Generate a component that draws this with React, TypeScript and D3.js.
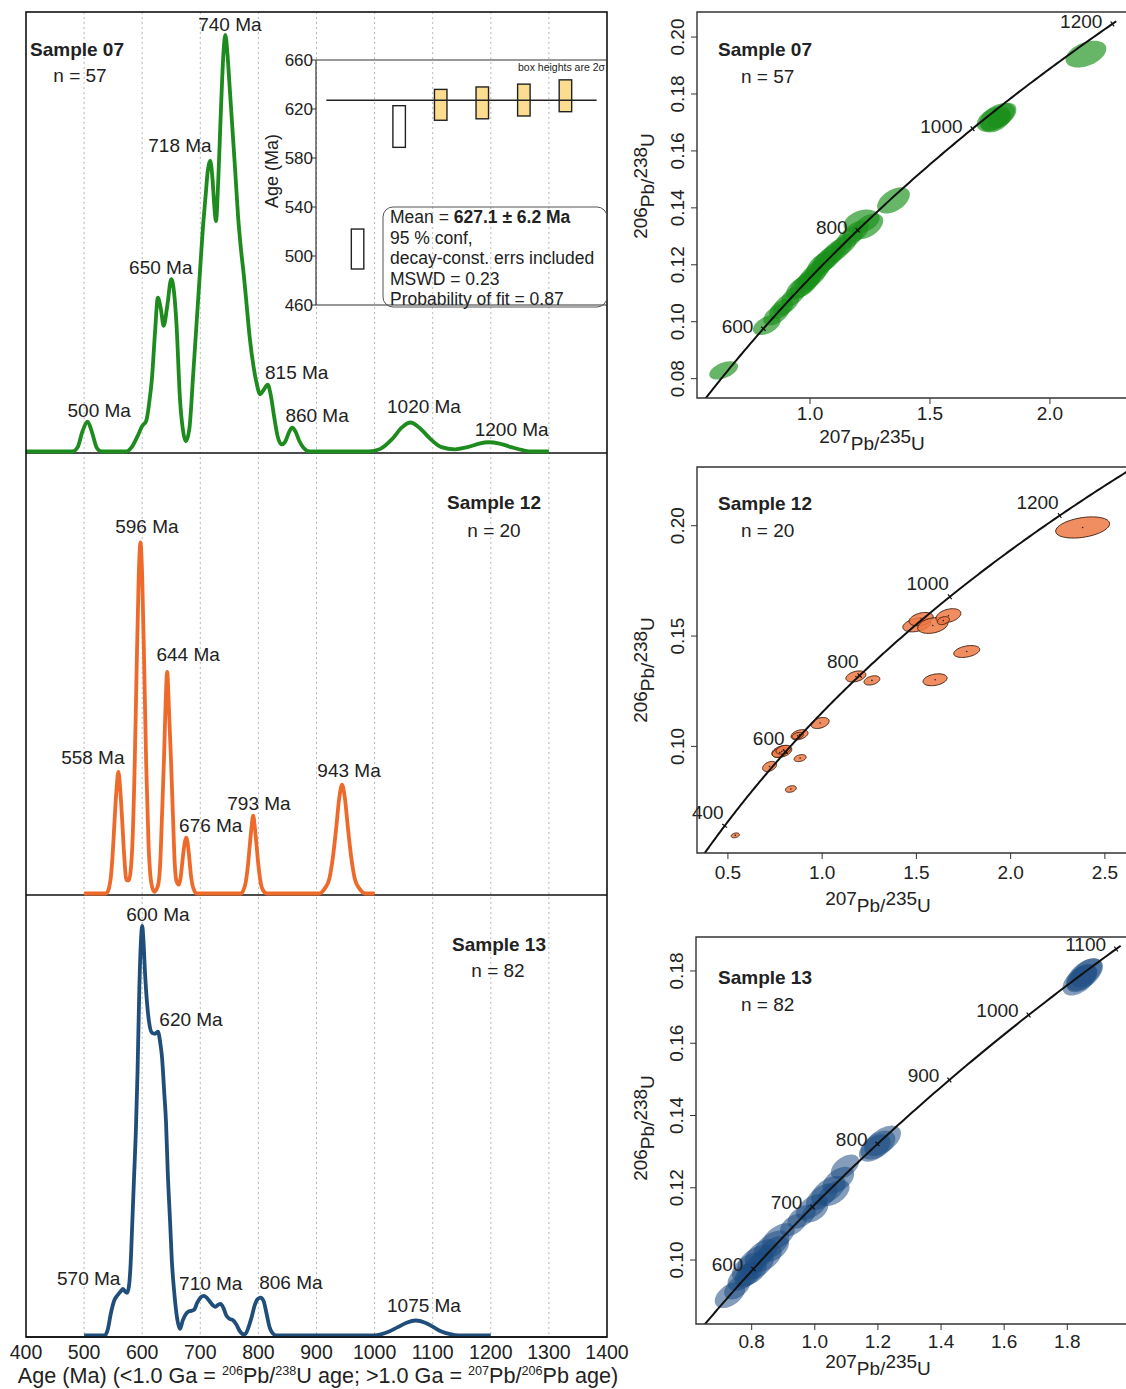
import { useEffect, useRef } from "react";
import * as d3 from "d3";

type Pt = [number, number];
type Peak = [string, number, number];
type Ell = [number, number, number, number, number];

const FONT = "'Liberation Sans', Arial, Helvetica, sans-serif";
const INK = "#222";

// ---------- age spectra (relative probability, 100 = panel height) ----------
const ageTicks = [400, 500, 600, 700, 800, 900, 1000, 1100, 1200, 1300, 1400];
const gridAges = [500, 600, 700, 800, 900, 1000, 1100, 1200, 1300];

const sample07Pdp: Pt[] = [
  [400, 0], [480, 0], [489, 1], [497, 4.5], [506, 6.8], [514, 4.2], [522, 0.8], [530, 0],
  [572, 0], [582, 1], [592, 3.5], [600, 5.8], [607, 7], [612, 11], [617, 17], [622, 27],
  [627, 35], [632, 32.5], [637, 28.6], [643, 33], [650, 39.2], [655, 36], [659, 29], [665, 12],
  [670, 5], [675, 2.3], [681, 5], [688, 18], [694, 30], [699, 40], [704, 50], [709, 58],
  [713, 64], [717, 66.2], [721, 62], [724, 56], [727, 52.4], [731, 62], [735, 76], [740, 91],
  [743, 94.8], [747, 90], [750, 84], [753, 78], [757, 70], [760, 64], [765, 53.5], [770, 46],
  [775, 40], [780, 33], [785, 26], [792, 19], [797, 15.5], [803, 13], [809, 14], [816, 15.2],
  [821, 13], [827, 8], [833, 3.5], [840, 1.6], [846, 2.2], [852, 4.2], [858, 5.4], [864, 4.5],
  [870, 2.5], [878, 0.8], [888, 0], [990, 0], [1010, 0.6], [1030, 2.8], [1047, 5.5], [1062, 6.6],
  [1078, 5.3], [1095, 3], [1115, 1], [1138, 0.5], [1160, 1], [1180, 1.8], [1196, 2.1],
  [1215, 1.8], [1235, 1], [1255, 0.3], [1270, 0], [1300, 0],
];

const sample12Pdp: Pt[] = [
  [500, 0], [537, 0], [540, 0.3], [543, 1.3], [546, 3.7], [549, 8.6], [552.5, 16.7], [556, 24],
  [559, 27.6], [562, 24], [565.5, 16.7], [569, 8.6], [573, 3], [577, 3], [580, 5], [583, 10.8],
  [587, 28.7], [590, 48], [594, 72], [597, 79.7], [600, 72], [604, 48], [607, 28.7], [611, 10.8],
  [614, 4.2], [617, 1.5], [621, 0.4], [624, 0.8], [628, 2.3], [631, 6.8], [634, 17.4],
  [637.5, 30.5], [640, 42], [643, 50.3], [646, 42], [649.5, 30.5], [653, 17.4], [656, 6.8],
  [659, 2.8], [663, 2], [666, 3.5], [669, 7], [672, 10.5], [676, 12.7], [680, 9.5], [684, 4],
  [688, 1.2], [694, 0], [770, 0], [774, 0.7], [778, 2.4], [782, 6.4], [785, 10.7], [788, 14.8],
  [791, 17.7], [794, 14.8], [797, 10.7], [800, 6.4], [804, 2.4], [808, 0.7], [815, 0],
  [905, 0], [914, 1.1], [922, 3.3], [928, 8], [934, 15], [939, 21.5], [944, 24.7], [949, 21.5],
  [954, 15], [960, 8], [966, 3.3], [974, 1.1], [984, 0], [1000, 0],
];

const sample13Pdp: Pt[] = [
  [500, 0], [535, 0], [541, 1.5], [546, 5], [552, 8], [558, 9.2], [563, 10], [567, 10.6],
  [571, 9.9], [574, 9.7], [577, 11], [580, 16], [583, 25.8], [586, 36], [589, 46], [592, 60],
  [595, 78.5], [598, 90], [600, 93], [602, 90], [605, 82], [608, 76], [612, 71], [617, 68.7],
  [622, 68.5], [627, 69], [631, 66.5], [634, 63.3], [638, 55], [641, 48.4], [644, 37],
  [648, 25.8], [651, 17], [655, 10], [660, 4], [665, 1.5], [670, 3.5], [678, 5.3], [684, 5.6],
  [689, 5.8], [695, 7.5], [701, 8.7], [706, 9], [711, 8.6], [717, 7.6], [722, 6.8], [726, 6.5],
  [731, 7], [735, 7.2], [740, 6.2], [745, 4.5], [750, 3.8], [756, 3.5], [762, 2.5], [768, 1],
  [774, 0.3], [777, 0.3], [782, 1.5], [788, 4], [794, 7], [799, 8.3], [804, 8.6], [809, 7.8],
  [814, 5], [819, 2], [824, 0.6], [831, 0], [1000, 0], [1012, 0.3], [1025, 0.9], [1040, 1.9],
  [1055, 2.9], [1071, 3.4], [1087, 2.9], [1100, 2], [1115, 0.9], [1130, 0.3], [1145, 0],
  [1200, 0],
];

const sample07Peaks: Peak[] = [
  ["740 Ma", 751, 97.3], ["718 Ma", 665, 69.6], ["650 Ma", 632, 42], ["815 Ma", 866, 18.1],
  ["500 Ma", 526, 9.3], ["860 Ma", 901, 8.2], ["1020 Ma", 1085, 10.2], ["1200 Ma", 1236, 5],
];
const sample12Peaks: Peak[] = [
  ["596 Ma", 608, 83.3], ["644 Ma", 679, 54.3], ["558 Ma", 515, 31], ["943 Ma", 956, 28.1],
  ["793 Ma", 801, 20.4], ["676 Ma", 718, 15.6],
];
const sample13Peaks: Peak[] = [
  ["600 Ma", 627, 95.7], ["620 Ma", 684, 71.9], ["570 Ma", 508, 13.1], ["710 Ma", 718, 11.8],
  ["806 Ma", 856, 12], ["1075 Ma", 1085, 6.8],
];

// ---------- weighted mean inset (sample 07) ----------
const meanTicks = [460, 500, 540, 580, 620, 660];
const meanBoxAges = [505.7, 605.7, 623.4, 625, 627.3, 630.8];
const meanBoxErr = [16.3, 17, 12.6, 13, 13, 13];
const meanBoxUsed = [false, false, true, true, true, true];
const meanAge = 627.1;

// ---------- concordia ellipses: [207/235, 206/238, err x, err y, rho] ----------
const ellipses07: Ell[] = [
  [0.64, 0.0829, 0.06, 0.0032, 0.45], [0.82, 0.0988, 0.058, 0.0035, 0.45],
  [0.86, 0.1025, 0.055, 0.0038, 0.5], [0.88, 0.1045, 0.05, 0.0035, 0.45],
  [0.9, 0.1062, 0.055, 0.004, 0.5], [0.93, 0.109, 0.05, 0.0036, 0.45],
  [0.96, 0.112, 0.06, 0.0042, 0.5], [0.975, 0.1128, 0.06, 0.0045, 0.5],
  [0.99, 0.1142, 0.055, 0.0042, 0.45], [1.0, 0.115, 0.05, 0.0038, 0.45],
  [1.01, 0.116, 0.06, 0.0046, 0.5], [1.03, 0.118, 0.055, 0.0042, 0.45],
  [1.045, 0.12, 0.06, 0.0046, 0.5], [1.06, 0.121, 0.055, 0.0042, 0.45],
  [1.075, 0.1222, 0.06, 0.0046, 0.5], [1.095, 0.1238, 0.055, 0.0042, 0.45],
  [1.115, 0.1252, 0.06, 0.0044, 0.5], [1.14, 0.127, 0.055, 0.004, 0.45],
  [1.165, 0.1295, 0.055, 0.004, 0.45], [1.19, 0.1315, 0.055, 0.004, 0.45],
  [1.215, 0.1352, 0.075, 0.0042, 0.3], [1.24, 0.1335, 0.065, 0.0045, 0.45],
  [1.348, 0.1426, 0.068, 0.0046, 0.45],
  [1.765, 0.1712, 0.07, 0.0045, 0.4], [1.78, 0.172, 0.074, 0.0048, 0.45],
  [1.775, 0.1705, 0.062, 0.004, 0.4], [1.8, 0.1725, 0.06, 0.0044, 0.45],
  [2.15, 0.194, 0.085, 0.0047, 0.4],
];

const ellipses12: Ell[] = [
  [0.539, 0.0597, 0.022, 0.0011, 0.3], [0.834, 0.0807, 0.029, 0.0015, 0.3],
  [0.721, 0.0909, 0.037, 0.0023, 0.35], [0.883, 0.0947, 0.032, 0.0016, 0.3],
  [0.786, 0.0977, 0.053, 0.0027, 0.35], [0.775, 0.0972, 0.04, 0.0022, 0.35],
  [0.795, 0.0985, 0.04, 0.002, 0.35], [0.88, 0.1053, 0.045, 0.0023, 0.35],
  [0.87, 0.1048, 0.03, 0.0015, 0.3], [0.989, 0.1106, 0.048, 0.0025, 0.35],
  [1.179, 0.1317, 0.053, 0.0025, 0.35], [1.264, 0.1299, 0.042, 0.0021, 0.35],
  [1.502, 0.1551, 0.074, 0.0032, 0.35], [1.525, 0.1577, 0.064, 0.003, 0.35],
  [1.587, 0.1548, 0.08, 0.0036, 0.3], [1.67, 0.1592, 0.066, 0.0032, 0.35],
  [1.643, 0.157, 0.032, 0.0018, 0.3], [1.767, 0.143, 0.069, 0.0027, 0.35],
  [1.599, 0.1302, 0.064, 0.0027, 0.3], [2.382, 0.1992, 0.143, 0.0048, 0.35],
];

const ellipses13: Ell[] = [
  [0.731, 0.0903, 0.048, 0.0036, 0.45], [0.755, 0.0925, 0.042, 0.0034, 0.45],
  [0.7735, 0.0953, 0.05, 0.0038, 0.45], [0.79, 0.096, 0.045, 0.0036, 0.45],
  [0.789, 0.0981, 0.052, 0.004, 0.5], [0.8, 0.0965, 0.048, 0.0036, 0.45],
  [0.81, 0.0999, 0.056, 0.0042, 0.5], [0.82, 0.0985, 0.05, 0.0039, 0.45],
  [0.83, 0.1018, 0.052, 0.004, 0.5], [0.845, 0.1005, 0.05, 0.0038, 0.45],
  [0.87, 0.103, 0.048, 0.0036, 0.45], [0.8633, 0.1041, 0.056, 0.0041, 0.5],
  [0.8844, 0.1064, 0.052, 0.0038, 0.5], [0.932, 0.1097, 0.042, 0.0031, 0.45],
  [0.9585, 0.112, 0.045, 0.0033, 0.45], [0.99, 0.1147, 0.05, 0.0036, 0.5],
  [1.0, 0.1135, 0.042, 0.0031, 0.45], [1.022, 0.1175, 0.05, 0.0037, 0.5],
  [1.043, 0.1193, 0.055, 0.004, 0.5], [1.06, 0.1185, 0.05, 0.0036, 0.45],
  [1.0745, 0.1221, 0.05, 0.0037, 0.45], [1.0957, 0.1258, 0.045, 0.0034, 0.45],
  [1.19, 0.131, 0.05, 0.0038, 0.45], [1.2, 0.1318, 0.055, 0.004, 0.45],
  [1.215, 0.133, 0.058, 0.0042, 0.5], [1.845, 0.178, 0.048, 0.0039, 0.45],
  [1.84, 0.1775, 0.055, 0.0043, 0.5], [1.855, 0.179, 0.058, 0.0045, 0.5],
  [1.86, 0.1795, 0.05, 0.004, 0.45],
];

const concordiaLabels07 = [600, 800, 1000, 1200];
const concordiaLabels12 = [400, 600, 800, 1000, 1200];
const concordiaLabels13 = [600, 700, 800, 900, 1000, 1100];

// decay constants per Ma
const L238 = 1.55125e-4;
const L235 = 9.8485e-4;

type Part = [string, number, number, boolean?];

function addParts(text: d3.Selection<SVGTextElement, unknown, null, undefined>, parts: Part[]) {
  parts.forEach(([t, dy, size, bold]) => {
    text.append("tspan").attr("dy", dy).attr("font-size", size)
      .attr("font-weight", bold ? "bold" : "normal").text(t);
  });
}

export default function App() {
  const ref = useRef<SVGSVGElement | null>(null);

  useEffect(() => {
    const el = ref.current;
    if (!el) return;
    const svg = d3.select(el);
    svg.selectAll("*").remove();
    svg.append("rect").attr("width", 1126).attr("height", 1389).attr("fill", "#fff");
    const root = svg.append("g").attr("font-family", FONT).attr("fill", INK);

    // ================= left: age spectra =================
    const ageX = d3.scaleLinear().domain([400, 1400]).range([26, 607]);
    const frameTop = 12, frameBottom = 1337;

    root.append("g").selectAll("line").data(gridAges).join("line")
      .attr("x1", (d) => ageX(d)).attr("x2", (d) => ageX(d))
      .attr("y1", frameTop).attr("y2", frameBottom)
      .attr("stroke", "#b8b8b8").attr("stroke-width", 1).attr("stroke-dasharray", "2,3");

    const pdpPanels = [
      { data: sample07Pdp, peaks: sample07Peaks, color: "#1d8b1d", top: 12, bottom: 453 },
      { data: sample12Pdp, peaks: sample12Peaks, color: "#ee6a2b", top: 453, bottom: 895 },
      { data: sample13Pdp, peaks: sample13Peaks, color: "#1f4e7a", top: 895, bottom: 1337 },
    ];

    pdpPanels.forEach((p) => {
      const y = d3.scaleLinear().domain([0, 100]).range([p.bottom - 1.5, p.top]);
      const line = d3.line<Pt>().x((d) => ageX(d[0])).y((d) => y(d[1])).curve(d3.curveMonotoneX);
      root.append("line").attr("x1", 26).attr("x2", 607).attr("y1", p.bottom).attr("y2", p.bottom)
        .attr("stroke", "#111").attr("stroke-width", 1.6);
      root.append("path").attr("d", line(p.data) ?? "").attr("fill", "none")
        .attr("stroke", p.color).attr("stroke-width", 3.8).attr("stroke-linejoin", "round");
      root.append("g").selectAll("text").data(p.peaks).join("text")
        .attr("x", (d) => ageX(d[1])).attr("y", (d) => y(d[2]) + 6.8)
        .attr("text-anchor", "middle").attr("font-size", 19).text((d) => d[0]);
    });

    root.append("rect").attr("x", 26).attr("y", frameTop).attr("width", 581)
      .attr("height", frameBottom - frameTop).attr("fill", "none")
      .attr("stroke", "#111").attr("stroke-width", 1.6);

    // sample captions
    root.append("text").attr("x", 30).attr("y", 56).attr("font-size", 19).attr("font-weight", "bold").text("Sample 07");
    root.append("text").attr("x", 80).attr("y", 82).attr("font-size", 19).attr("text-anchor", "middle").text("n = 57");
    root.append("text").attr("x", 494).attr("y", 509).attr("font-size", 19).attr("font-weight", "bold").attr("text-anchor", "middle").text("Sample 12");
    root.append("text").attr("x", 494).attr("y", 537).attr("font-size", 19).attr("text-anchor", "middle").text("n = 20");
    root.append("text").attr("x", 499).attr("y", 951).attr("font-size", 19).attr("font-weight", "bold").attr("text-anchor", "middle").text("Sample 13");
    root.append("text").attr("x", 498).attr("y", 977).attr("font-size", 19).attr("text-anchor", "middle").text("n = 82");

    // bottom axis
    root.append("g").selectAll("text").data(ageTicks).join("text")
      .attr("x", (d) => ageX(d)).attr("y", 1359).attr("text-anchor", "middle")
      .attr("font-size", 19.5).text((d) => d);
    const xTitle = root.append("text").attr("x", 318).attr("y", 1383).attr("text-anchor", "middle");
    addParts(xTitle, [
      ["Age (Ma) (<1.0 Ga = ", 0, 21.6], ["206", -8, 12.6], ["Pb/", 8, 21.6], ["238", -8, 12.6],
      ["U age; >1.0 Ga = ", 8, 21.6], ["207", -8, 12.6], ["Pb/", 8, 21.6], ["206", -8, 12.6],
      ["Pb age)", 8, 21.6],
    ]);

    // ================= weighted mean inset =================
    const ix = d3.scaleLinear().domain([0, 7]).range([316, 607]);
    const iy = d3.scaleLinear().domain([460, 660]).range([305, 60]);
    const inset = root.append("g");
    inset.append("line").attr("x1", ix(0)).attr("x2", ix(0)).attr("y1", iy(660)).attr("y2", iy(460)).attr("stroke", "#333").attr("stroke-width", 1.2);
    inset.append("line").attr("x1", ix(0)).attr("x2", ix(7)).attr("y1", iy(660)).attr("y2", iy(660)).attr("stroke", "#333").attr("stroke-width", 1.2);
    inset.append("line").attr("x1", ix(0)).attr("x2", ix(7)).attr("y1", iy(460)).attr("y2", iy(460)).attr("stroke", "#333").attr("stroke-width", 1.2);
    inset.append("g").selectAll("line").data(meanTicks).join("line")
      .attr("x1", ix(0) - 4).attr("x2", ix(0)).attr("y1", (d) => iy(d)).attr("y2", (d) => iy(d))
      .attr("stroke", "#333");
    inset.append("g").selectAll("text").data(meanTicks).join("text")
      .attr("x", ix(0) - 3).attr("y", (d) => iy(d) + 6.2).attr("text-anchor", "end")
      .attr("font-size", 17).text((d) => d);
    inset.append("text").attr("transform", `translate(278, ${iy(580) + 13}) rotate(-90)`)
      .attr("text-anchor", "middle").attr("font-size", 18).text("Age (Ma)");
    inset.append("text").attr("x", 605).attr("y", 71).attr("text-anchor", "end").attr("font-size", 10.5).text("box heights are 2σ");
    inset.append("g").selectAll("rect").data(meanBoxAges).join("rect")
      .attr("x", (_, i) => ix(i + 1) - 6.25).attr("width", 12.5)
      .attr("y", (d, i) => iy(d + meanBoxErr[i]))
      .attr("height", (d, i) => iy(d - meanBoxErr[i]) - iy(d + meanBoxErr[i]))
      .attr("fill", (_, i) => (meanBoxUsed[i] ? "#fcdc8e" : "#fff"))
      .attr("stroke", "#222").attr("stroke-width", 1.4);
    inset.append("line").attr("x1", ix(0.25)).attr("x2", ix(6.75)).attr("y1", iy(meanAge)).attr("y2", iy(meanAge))
      .attr("stroke", "#222").attr("stroke-width", 1.5);
    inset.append("rect").attr("x", 383).attr("y", 207).attr("width", 224).attr("height", 100).attr("rx", 10)
      .attr("fill", "none").attr("stroke", "#555").attr("stroke-width", 1);
    const legendLines: Part[][] = [
      [["Mean = ", 0, 17.5], ["627.1 ± 6.2 Ma", 0, 17.5, true]],
      [["95 % conf,", 0, 17.5]],
      [["decay-const. errs included", 0, 17.5]],
      [["MSWD = 0.23", 0, 17.5]],
      [["Probability of fit = 0.87", 0, 17.5]],
    ];
    legendLines.forEach((parts, i) => {
      const t = inset.append("text").attr("x", 390).attr("y", 223 + i * 20.5);
      addParts(t, parts);
    });

    // ================= right: concordia diagrams =================
    const concPanels = [
      {
        id: "c07", ell: ellipses07, labels: concordiaLabels07, tRange: [300, 1206],
        left: 697, top: 12, bottom: 398, xDom: [0.529, 2.317], yDom: [0.0732, 0.2088],
        xTicks: [1.0, 1.5, 2.0], yTicks: [0.08, 0.1, 0.12, 0.14, 0.16, 0.18, 0.2],
        xFmt: ".1f", yFmt: ".2f", fill: "#189018", op: 0.66, stroke: "none", dots: false,
        title: "Sample 07", n: "n = 57", capY: 56, ldx: -10, ldy: 4,
        xtY: 22, xtitleY: 443, xtitleX: 872, ytitleY: 186,
      },
      {
        id: "c12", ell: ellipses12, labels: concordiaLabels12, tRange: [200, 1500],
        left: 697, top: 467, bottom: 853, xDom: [0.336, 2.612], yDom: [0.0517, 0.2266],
        xTicks: [0.5, 1.0, 1.5, 2.0, 2.5], yTicks: [0.1, 0.15, 0.2],
        xFmt: ".1f", yFmt: ".2f", fill: "#ee7a45", op: 0.85, stroke: "#3a1a0a", dots: true,
        title: "Sample 12", n: "n = 20", capY: 510, ldx: -1, ldy: -7,
        xtY: 26, xtitleY: 905, xtitleX: 878, ytitleY: 670,
      },
      {
        id: "c13", ell: ellipses13, labels: concordiaLabels13, tRange: [400, 1106],
        left: 696, top: 937, bottom: 1324, xDom: [0.6236, 1.986], yDom: [0.0823, 0.1894],
        xTicks: [0.8, 1.0, 1.2, 1.4, 1.6, 1.8], yTicks: [0.1, 0.12, 0.14, 0.16, 0.18],
        xFmt: ".1f", yFmt: ".2f", fill: "#1d4d84", op: 0.55, stroke: "none", dots: false,
        title: "Sample 13", n: "n = 82", capY: 984, ldx: -10, ldy: 2,
        xtY: 24, xtitleY: 1368, xtitleX: 878, ytitleY: 1128,
      },
    ];

    const defs = svg.append("defs");

    concPanels.forEach((c) => {
      const x = d3.scaleLinear().domain(c.xDom).range([c.left, 1126]);
      const y = d3.scaleLinear().domain(c.yDom).range([c.bottom, c.top]);
      defs.append("clipPath").attr("id", c.id).append("rect")
        .attr("x", c.left).attr("y", c.top).attr("width", 1126 - c.left).attr("height", c.bottom - c.top);
      const g = root.append("g");
      const plot = g.append("g").attr("clip-path", `url(#${c.id})`);

      // error ellipses
      const angles = d3.range(0, 2 * Math.PI, Math.PI / 30);
      const ellPath = (e: Ell) => {
        const [cx, cy, sx, sy, rho] = e;
        const pts: Pt[] = angles.map((a) => [
          x(cx + sx * Math.cos(a)),
          y(cy + sy * (rho * Math.cos(a) + Math.sqrt(1 - rho * rho) * Math.sin(a))),
        ]);
        return d3.line().curve(d3.curveLinearClosed)(pts) ?? "";
      };
      plot.append("g").selectAll("path").data(c.ell).join("path")
        .attr("d", ellPath).attr("fill", c.fill).attr("fill-opacity", c.op)
        .attr("stroke", c.stroke).attr("stroke-width", 0.9);
      if (c.dots) {
        plot.append("g").selectAll("circle").data(c.ell).join("circle")
          .attr("cx", (d) => x(d[0])).attr("cy", (d) => y(d[1])).attr("r", 0.8).attr("fill", "#222");
      }

      // concordia curve
      const ts = d3.range(c.tRange[0], c.tRange[1] + 0.1, 5);
      const conc = (t: number): Pt => [Math.exp(L235 * t) - 1, Math.exp(L238 * t) - 1];
      const cline = d3.line<number>().x((t) => x(conc(t)[0])).y((t) => y(conc(t)[1]));
      plot.append("path").attr("d", cline(ts) ?? "").attr("fill", "none").attr("stroke", "#111").attr("stroke-width", 2);
      c.labels.forEach((t) => {
        const [px, py] = [x(conc(t)[0]), y(conc(t)[1])];
        const [qx, qy] = [x(conc(t + 5)[0]), y(conc(t + 5)[1])];
        const len = Math.hypot(qx - px, qy - py) || 1;
        const nx = -(qy - py) / len, ny = (qx - px) / len;
        plot.append("line").attr("x1", px - nx * 3).attr("y1", py - ny * 3)
          .attr("x2", px + nx * 3).attr("y2", py + ny * 3).attr("stroke", "#111").attr("stroke-width", 1.2);
        g.append("text").attr("x", px + c.ldx).attr("y", py + c.ldy).attr("text-anchor", "end")
          .attr("font-size", 19).text(t);
      });

      // frame (open on the right)
      g.append("path").attr("d", `M1126,${c.top}H${c.left}V${c.bottom}H1126`)
        .attr("fill", "none").attr("stroke", "#333").attr("stroke-width", 1.4);

      // ticks
      g.append("g").selectAll("line").data(c.yTicks).join("line")
        .attr("x1", c.left - 6).attr("x2", c.left).attr("y1", (d) => y(d)).attr("y2", (d) => y(d)).attr("stroke", "#333");
      g.append("g").selectAll("text").data(c.yTicks).join("text")
        .attr("transform", (d) => `translate(${c.left - 13.5}, ${y(d)}) rotate(-90)`)
        .attr("text-anchor", "middle").attr("font-size", 19).text((d) => d3.format(c.yFmt)(d));
      g.append("g").selectAll("line").data(c.xTicks).join("line")
        .attr("x1", (d) => x(d)).attr("x2", (d) => x(d)).attr("y1", c.bottom).attr("y2", c.bottom + 6).attr("stroke", "#333");
      g.append("g").selectAll("text").data(c.xTicks).join("text")
        .attr("x", (d) => x(d)).attr("y", c.bottom + c.xtY).attr("text-anchor", "middle")
        .attr("font-size", 19).text((d) => d3.format(c.xFmt)(d));

      // axis titles
      const xt = g.append("text").attr("x", c.xtitleX).attr("y", c.xtitleY).attr("text-anchor", "middle");
      addParts(xt, [["207", 0, 19], ["Pb/", 7, 19], ["235", -7, 19], ["U", 7, 19]]);
      const yt = g.append("text").attr("transform", `translate(647, ${c.ytitleY}) rotate(-90)`).attr("text-anchor", "middle");
      addParts(yt, [["206", 0, 19], ["Pb/", 7, 19], ["238", -7, 19], ["U", 7, 19]]);

      // captions
      g.append("text").attr("x", 718).attr("y", c.capY).attr("font-size", 19).attr("font-weight", "bold").text(c.title);
      g.append("text").attr("x", 741).attr("y", c.capY + 27).attr("font-size", 19).text(c.n);
    });
  }, []);

  return (
    <svg
      ref={ref}
      width={1126}
      height={1389}
      style={{ position: "absolute", left: 0, top: 0, display: "block" }}
    />
  );
}
